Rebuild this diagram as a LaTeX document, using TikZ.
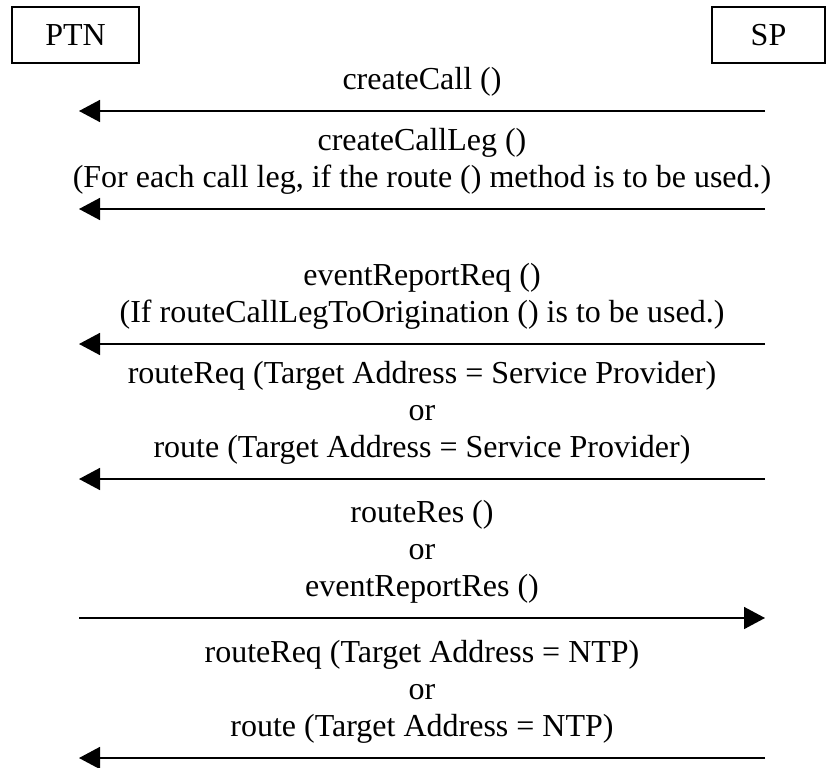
\documentclass[tikz,border=0pt]{standalone}
\usepackage{fontspec}
\setmainfont{Liberation Serif}
\usetikzlibrary{positioning,arrows.meta}

\begin{document}
\begin{tikzpicture}[
        x=0.75pt, y=-0.75pt,
        node distance=10.5pt,
        actor/.style={draw, line width=1pt, minimum height=42pt, inner sep=0pt, font=\fontsize{24}{27.75}\selectfont},
        msglbl/.style={align=center, inner sep=0pt, font=\fontsize{24}{27.75}\selectfont},
        msg/.style={-{Triangle[length=15.75pt, width=16.5pt]}, line width=1.2pt}
    ]
    \useasboundingbox (0,0) rectangle (827,767);

    % --- Entities ---
    \node[actor, minimum width=95.25pt] (ptn) at (75.5,35) {PTN};
    \node[actor, minimum width=84.75pt] (sp) at (768.5,35) {SP};

    % --- Message ends ---
    \coordinate (ptn1) at (79,111); \coordinate (m1) at (422,111); \coordinate (sp1) at (765,111);
    \coordinate (ptn2) at (79,209); \coordinate (m2) at (422,209); \coordinate (sp2) at (765,209);
    \coordinate (ptn3) at (79,344); \coordinate (m3) at (422,344); \coordinate (sp3) at (765,344);
    \coordinate (ptn4) at (79,479); \coordinate (m4) at (422,479); \coordinate (sp4) at (765,479);
    \coordinate (ptn5) at (79,618); \coordinate (m5) at (422,618); \coordinate (sp5) at (765,618);
    \coordinate (ptn6) at (79,758); \coordinate (m6) at (422,758); \coordinate (sp6) at (765,758);

    % --- Labels ---
    \node[msglbl, above=of m1] (createcall) {createCall ()};
    \node[msglbl, above=of m2] (createleg) {createCallLeg ()\\(For each call leg, if the route () method is to be used.)};
    \node[msglbl, above=of m3] (eventreq) {eventReportReq ()\\(If routeCallLegToOrigination () is to be used.)};
    \node[msglbl, above=of m4] (routesp) {routeReq (Target Address = Service Provider)\\or\\route (Target Address = Service Provider)};
    \node[msglbl, above=of m5] (routeres) {routeRes ()\\or\\eventReportRes ()};
    \node[msglbl, above=of m6] (routentp) {routeReq (Target Address = NTP)\\or\\route (Target Address = NTP)};

    % --- Messages ---
    \draw[msg] (sp1) -- (ptn1);
    \draw[msg] (sp2) -- (ptn2);
    \draw[msg] (sp3) -- (ptn3);
    \draw[msg] (sp4) -- (ptn4);
    \draw[msg] (ptn5) -- (sp5);
    \draw[msg] (sp6) -- (ptn6);

\end{tikzpicture}
\end{document}
